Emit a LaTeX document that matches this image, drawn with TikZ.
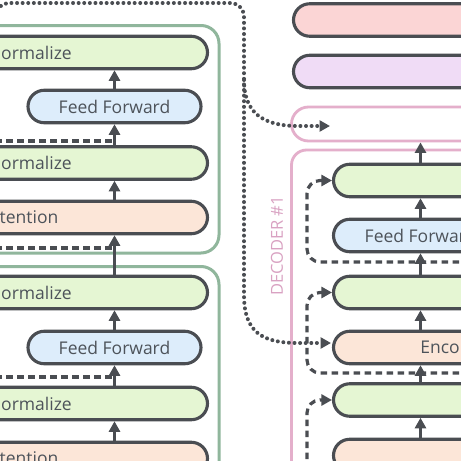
\documentclass[tikz,border=0pt]{standalone}
\usepackage{fontspec}
\setmainfont{Open Sans}
\usetikzlibrary{shapes.misc,arrows.meta}
\definecolor{strokec}{HTML}{4A4D52}
\definecolor{textc}{HTML}{4D535A}
\definecolor{greenf}{HTML}{E5F6D3}
\definecolor{bluef}{HTML}{DDEDFB}
\definecolor{peachf}{HTML}{FCE6D8}
\definecolor{redf}{HTML}{FBD5D5}
\definecolor{purplef}{HTML}{F0DCF6}
\definecolor{encc}{HTML}{90B69C}
\definecolor{decc}{HTML}{E4AFCB}
\definecolor{declab}{HTML}{D9A2C2}
\begin{document}
\begin{tikzpicture}[x=1pt,y=-1pt,
  blk/.style={rounded rectangle, draw=strokec, line width=3.1pt, minimum height=32.5pt,
    inner sep=0pt, text=textc, font=\fontsize{17.5}{20}\selectfont},
  norm/.style={blk, fill=greenf},
  ffn/.style={blk, fill=bluef},
  att/.style={blk, fill=peachf},
  encbox/.style={draw=encc, line width=3pt, rounded corners=18pt, inner sep=0pt},
  decbox/.style={draw=decc, line width=2.8pt, inner sep=0pt},
  arr/.style={draw=strokec, line width=3.2pt, -{Triangle[length=10.5pt,width=11pt]}},
  resline/.style={draw=strokec, line width=3.2pt, dash pattern=on 6.5pt off 4.5pt},
  res/.style={resline, rounded corners=13pt, -{Triangle[length=10.5pt,width=11pt]}},
  dots/.style={draw=strokec, line width=4pt, line cap=round, dash pattern=on 0pt off 5.6pt,
    -{Triangle[length=10.5pt,width=11pt]}}
]
\useasboundingbox (0,0) rectangle (461,461);
\fill[white] (0,0) rectangle (461,461);
\clip (0,0) rectangle (461,461);

% encoder containers
\node[encbox, minimum width=239pt, minimum height=227.5pt] (enc1) at (99.5,139.25) {};
\node[encbox, minimum width=239pt, minimum height=233.5pt] (enc2) at (99.5,383.25) {};

% decoder container and stack top
\node[decbox, rounded corners=15pt, minimum width=328.5pt, minimum height=350pt] (dec) at (455.75,325) {};
\node[decbox, rounded rectangle, minimum width=328.5pt, minimum height=34pt] (stack) at (455.75,124) {};
\node[rotate=90, text=declab, font=\fontsize{16.5}{18}\selectfont] (declabel) at (277,246) {DECODER \#1};

% top boxes
\node[blk, fill=redf, minimum width=326.5pt] (topred) at (456.75,20) {};
\node[blk, fill=purplef, minimum width=326.5pt] (toppur) at (456.75,71.5) {};

% left column, encoder 1
\node[norm, minimum width=342pt] (na) at (36.5,52.5) {ormalize};
\node[ffn, minimum width=173pt] (ff1) at (114.5,106.5) {Feed Forward};
\node[norm, minimum width=342pt] (nb) at (36.5,163) {ormalize};
\node[att, minimum width=357pt] (at1) at (29,217.5) {tention};
% left column, encoder 2
\node[norm, minimum width=342pt] (nc) at (36.5,292.5) {ormalize};
\node[ffn, minimum width=173pt] (ff2) at (114.5,347.5) {Feed Forward};
\node[norm, minimum width=342pt] (nd) at (36.5,403.5) {ormalize};
\node[att, minimum width=357pt] (at2) at (29,458.5) {tention};

% right column, decoder
\node[norm, minimum width=270pt] (nr1) at (468.5,180.5) {};
\node[ffn, minimum width=174pt] (ffr) at (420.5,235.5) {Feed Forward};
\node[norm, minimum width=270pt] (nr2) at (468.5,292.5) {};
\node[att, minimum width=213pt] (encdec) at (440,347.5) {Enco};
\node[norm, minimum width=270pt] (nr3) at (468.5,400) {};
\node[att, minimum width=270pt] (selfr) at (468.5,455.5) {};

% left vertical arrows
\draw[arr] (ff1.north) -- (na.south -| ff1.center);
\draw[arr] (nb.north -| ff1.center) -- (ff1.south);
\draw[arr] (at1.north -| ff1.center) -- (nb.south -| ff1.center);
\draw[arr] (nc.north -| ff1.center) -- (at1.south -| ff1.center);
\draw[arr] (ff2.north) -- (nc.south -| ff2.center);
\draw[arr] (nd.north -| ff2.center) -- (ff2.south);
\draw[arr] (at2.north -| ff2.center) -- (nd.south -| ff2.center);

% left residual lines
\coordinate (la) at (-5,141);   \coordinate (ja) at (114.5,141);
\coordinate (lb) at (-5,248);   \coordinate (jb) at (114.5,248);
\coordinate (lc) at (-5,377);   \coordinate (jc) at (114.5,377);
\draw[resline] (la) -- (ja);
\draw[resline] (lb) -- (jb);
\draw[resline] (lc) -- (jc);

% right vertical arrows
\draw[arr] (nr1.north -| ffr.center) -- (stack.south -| ffr.center);
\draw[arr] (ffr.north) -- (nr1.south -| ffr.center);
\draw[arr] (nr2.north -| ffr.center) -- (ffr.south);
\draw[arr] (encdec.north -| ffr.center) -- (nr2.south -| ffr.center);
\draw[arr] (nr3.north -| ffr.center) -- (encdec.south -| ffr.center);
\draw[arr] (selfr.north -| ffr.center) -- (nr3.south -| ffr.center);

% right residual connections
\coordinate (ra) at (470,262);
\coordinate (rb) at (470,373);
\coordinate (rc) at (307,470);
\draw[res] (ra) -| (307,180.5) -- (nr1.west);
\draw[res] (rb) -| (307,292.5) -- (nr2.west);
\draw[res] (rc) |- (nr3.west);

% encoder output (dotted)
\coordinate (dstart) at (-5,200);
\coordinate (split) at (244,80);
\coordinate (stackin) at (330,126);
\coordinate (encin) at (331,343);
\draw[dots] (dstart) -- (-5,17) .. controls (-5,9) and (2,3) .. (10,3) -- (230,3)
  .. controls (238,3) and (244,9) .. (244,17) -- (244,295)
  .. controls (244,332) and (262,343) .. (298,343) -- (encin);
\draw[dots] (split) .. controls (244,112) and (262,126) .. (298,126) -- (stackin);
\end{tikzpicture}
\end{document}
